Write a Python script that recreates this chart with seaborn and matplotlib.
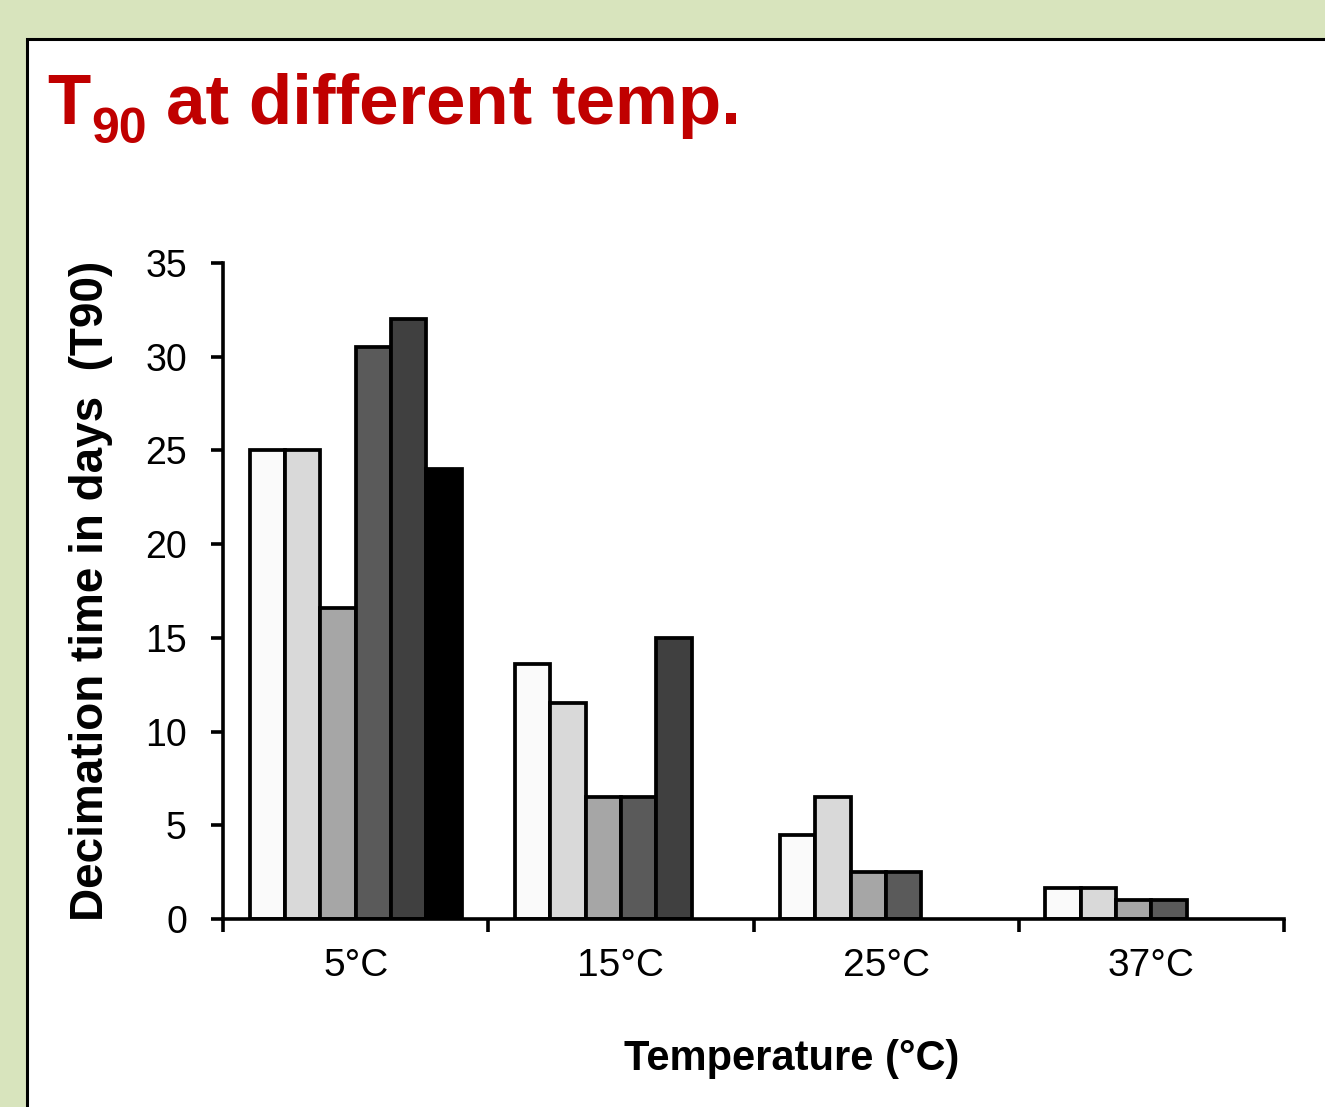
import numpy as np
import pandas as pd
import matplotlib
matplotlib.use("Agg")
import matplotlib.pyplot as plt
import seaborn as sns
from matplotlib.patches import Rectangle

# ---- data ----
categories = ["5°C", "15°C", "25°C", "37°C"]
series_names = ["Series 1", "Series 2", "Series 3", "Series 4", "Series 5", "Series 6"]
series1 = [25.0, 13.6, 4.5, 1.65]
series2 = [25.0, 11.5, 6.5, 1.65]
series3 = [16.6, 6.5, 2.5, 1.0]
series4 = [30.5, 6.5, 2.5, 1.0]
series5 = [32.0, 15.0, None, None]
series6 = [24.0, None, None, None]
bar_colors = ["#fafafa", "#d9d9d9", "#a6a6a6", "#5a5a5a", "#404040", "#000000"]
y_ticks = [0, 5, 10, 15, 20, 25, 30, 35]

rows = []
for name, vals in zip(series_names, [series1, series2, series3, series4, series5, series6]):
    for cat, v in zip(categories, vals):
        if v is not None:
            rows.append({"temp": cat, "series": name, "value": v})
df = pd.DataFrame(rows)

sns.set_style("ticks")
plt.rcParams["font.family"] = ["Liberation Sans", "DejaVu Sans"]
plt.rcParams["text.color"] = "black"
plt.rcParams["axes.labelcolor"] = "black"
plt.rcParams["xtick.color"] = "black"
plt.rcParams["ytick.color"] = "black"

W, H = 1325, 1107
fig = plt.figure(figsize=(W / 100, H / 100), dpi=100, facecolor="#d8e4bd")

# white panel with black border
panel = Rectangle((26.5 / W, -0.1), 2.0, 1068.5 / H + 0.1, transform=fig.transFigure,
                  facecolor="white", edgecolor="black", linewidth=2.2, zorder=0)
fig.add_artist(panel)

ax = fig.add_axes([223 / W, 1 - 919 / H, 1061 / W, 656 / H])
ax.set_facecolor("white")

sns.barplot(data=df, x="temp", y="value", hue="series", order=categories,
            hue_order=series_names, palette=bar_colors, saturation=1,
            edgecolor="black", linewidth=2.7, errorbar=None, width=0.8,
            legend=False, ax=ax)

ax.set_xlim(-0.5, 3.5)
ax.set_ylim(0, 35)
ax.set_yticks(y_ticks)
ax.set_yticklabels([str(t) for t in y_ticks], fontsize=27, color="black")
ax.set_xticks([-0.5, 0.5, 1.5, 2.5, 3.5])
ax.set_xticklabels([])
ax.set_xticks(range(len(categories)), minor=True)
ax.set_xticklabels(categories, minor=True, fontsize=28, color="black")

for side in ["top", "right"]:
    ax.spines[side].set_visible(False)
for side in ["left", "bottom"]:
    ax.spines[side].set_linewidth(2.6)
    ax.spines[side].set_color("black")
    ax.spines[side].set_zorder(5)

ax.tick_params(axis="y", which="major", direction="out", length=9, width=2.6,
               pad=17, colors="black")
ax.tick_params(axis="x", which="major", direction="out", length=9, width=2.6,
               colors="black")
ax.tick_params(axis="x", which="minor", length=0, pad=21, colors="black")

ax.set_ylabel("Decimation time in days  (T90)", fontsize=33, fontweight="bold",
              va="center", color="black")
ax.yaxis.set_label_coords(-0.124, 0.5)
ax.set_xlabel("Temperature (°C)", fontsize=30, fontweight="bold", va="baseline",
              color="black")
ax.xaxis.set_label_coords(0.536, -0.230)

# title with subscript
red = "#c00000"
fig.text(47 / W, 1 - 124 / H, "T", fontsize=51, fontweight="bold", color=red,
         ha="left", va="baseline")
fig.text(91 / W, 1 - 143 / H, "90", fontsize=36, fontweight="bold", color=red,
         ha="left", va="baseline")
fig.text(166 / W, 1 - 124 / H, "at different temp.", fontsize=51, fontweight="bold",
         color=red, ha="left", va="baseline")

fig.savefig("out.png", dpi=100, facecolor=fig.get_facecolor())
